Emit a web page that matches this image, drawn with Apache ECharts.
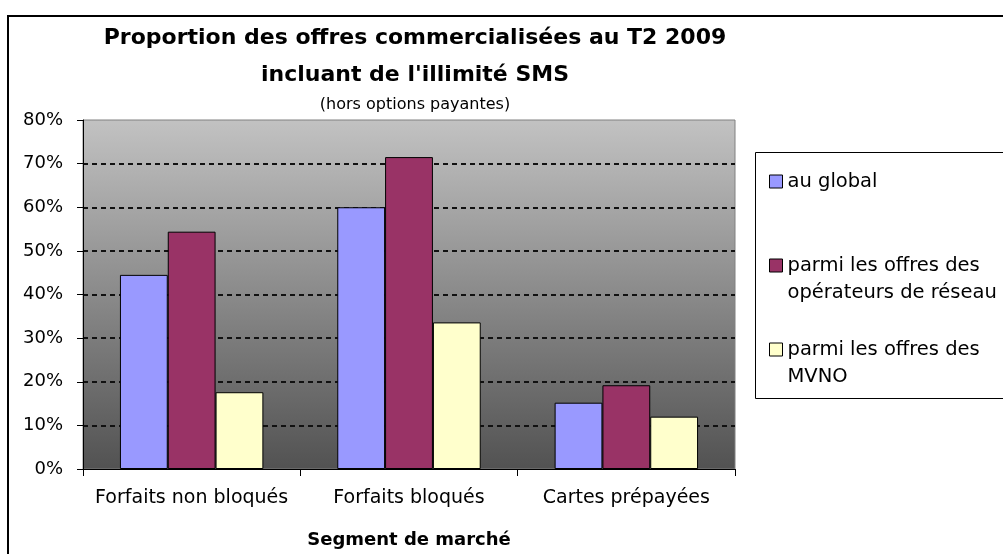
<!DOCTYPE html>
<html>
<head>
<meta charset="utf-8">
<script src="https://cdn.jsdelivr.net/npm/echarts@6/dist/echarts.min.js"></script>
<style>
  html, body { margin: 0; padding: 0; background: #fff; }
  #main { width: 1003px; height: 554px; }
</style>
</head>
<body>
<div id="main"></div>
<script>
// categories and values (percent)
var segments = ['Forfaits non bloqués', 'Forfaits bloqués', 'Cartes prépayées'];
var auGlobal = [44.5, 60, 15.2];
var operateurs = [54.4, 71.5, 19.2];
var mvno = [17.6, 33.6, 12];
var seriesNames = ['au global', 'parmi les offres des opérateurs de réseau', 'parmi les offres des MVNO'];
var legendLabels = [' \nau global\n ', ' \nparmi les offres des\nopérateurs de réseau', ' \nparmi les offres des\nMVNO'];
var yTicks = { min: 0, max: 80, interval: 10 };

var FONT = 'DejaVu Sans';

var myChart = echarts.init(document.getElementById('main'));

function barSeries(name, data, color) {
    return {
        name: name,
        type: 'bar',
        data: data,
        barGap: '0%',
        barCategoryGap: '34%',
        itemStyle: { color: color, borderColor: '#000', borderWidth: 1 }
    };
}

var option = {
    animation: false,
    backgroundColor: '#fff',
    title: {
        text: 'Proportion des offres commercialisées au T2 2009\nincluant de l\'illimité SMS',
        subtext: '(hors options payantes)',
        left: 415,
        top: 20,
        padding: 0,
        textAlign: 'center',
        itemGap: 1,
        textStyle: { fontFamily: FONT, fontWeight: 'bold', fontSize: 22, lineHeight: 37, color: '#000' },
        subtextStyle: { fontFamily: FONT, fontSize: 16, lineHeight: 19, color: '#000' }
    },
    legend: {
        orient: 'vertical',
        left: 769,
        top: 141,
        padding: 0,
        itemGap: 3,
        itemWidth: 13,
        itemHeight: 13,
        icon: 'rect',
        data: seriesNames,
        formatter: function (name) {
            return legendLabels[seriesNames.indexOf(name)];
        },
        itemStyle: { borderColor: '#000', borderWidth: 1 },
        textStyle: { fontFamily: FONT, fontSize: 19.5, lineHeight: 27, color: '#000' }
    },
    grid: {
        left: 83,
        top: 120,
        width: 652,
        height: 349,
        show: true,
        borderColor: '#808080',
        borderWidth: 1,
        backgroundColor: {
            type: 'linear', x: 0, y: 0, x2: 0, y2: 1,
            colorStops: [{ offset: 0, color: '#c2c2c2' }, { offset: 1, color: '#525252' }]
        }
    },
    xAxis: {
        type: 'category',
        data: segments,
        name: 'Segment de marché',
        nameLocation: 'middle',
        nameGap: 62,
        nameTextStyle: { fontFamily: FONT, fontWeight: 'bold', fontSize: 18, color: '#000' },
        axisLine: { lineStyle: { color: '#000', width: 1 } },
        axisTick: { show: true, length: 7, lineStyle: { color: '#000' } },
        axisLabel: { interval: 0, fontFamily: FONT, fontSize: 19, color: '#000', margin: 20 }
    },
    yAxis: {
        type: 'value',
        min: yTicks.min,
        max: yTicks.max,
        interval: yTicks.interval,
        axisLine: { show: true, lineStyle: { color: '#000', width: 1 } },
        axisTick: { show: true, length: 6, lineStyle: { color: '#000' } },
        axisLabel: { fontFamily: FONT, fontSize: 18, color: '#000', margin: 20, formatter: '{value}%' },
        splitLine: {
            show: true,
            showMinLine: false,
            showMaxLine: false,
            lineStyle: { color: '#111', width: 2, type: [5, 4] }
        }
    },
    graphic: [
        {
            type: 'rect',
            shape: { x: 8, y: 16, width: 1200, height: 700 },
            style: { fill: 'none', stroke: '#000', lineWidth: 2 },
            silent: true
        },
        {
            type: 'rect',
            shape: { x: 755.5, y: 152.5, width: 400, height: 246 },
            style: { fill: 'none', stroke: '#000', lineWidth: 1 },
            silent: true
        }
    ],
    series: [
        barSeries(seriesNames[0], auGlobal, '#9999ff'),
        barSeries(seriesNames[1], operateurs, '#993366'),
        barSeries(seriesNames[2], mvno, '#ffffcc')
    ]
};

myChart.setOption(option);
</script>
</body>
</html>
